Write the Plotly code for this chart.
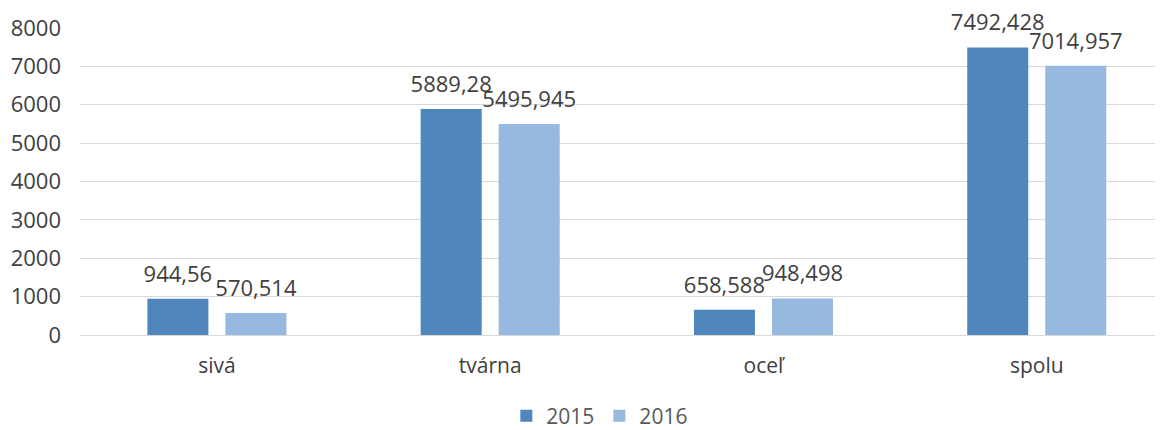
import plotly.graph_objects as go

categories = ["sivá", "tvárna", "oceľ", "spolu"]
values_2015 = [944.56, 5889.28, 658.588, 7492.428]
values_2016 = [570.514, 5495.945, 948.498, 7014.957]
series_names = ["2015", "2016"]
y_ticks = [0, 1000, 2000, 3000, 4000, 5000, 6000, 7000, 8000]

colors = ["#4F87BC", "#97B8DF"]
FONT = "Open Sans, DejaVu Sans, sans-serif"
TXT = "#404040"


def fmt(v):
    return str(v).replace(".", ",")


fig = go.Figure()
series = list(zip(series_names, [values_2015, values_2016], colors))
for name, vals, col in series:
    fig.add_trace(go.Bar(
        name=name, x=categories, y=vals, offsetgroup=name,
        marker=dict(color=col, line=dict(width=0)),
    ))
# value labels: invisible markers carry the text a little above each bar
for name, vals, col in series:
    fig.add_trace(go.Scatter(
        x=categories, y=vals, offsetgroup=name, mode="markers+text",
        marker=dict(size=17, opacity=0, color=col),
        text=[fmt(v) for v in vals], textposition="top center",
        textfont=dict(family=FONT, size=22, color=TXT),
        cliponaxis=False, showlegend=False, hoverinfo="skip",
    ))

# the page body adds an 8px margin, so the figure is sized/offset to compensate
fig.update_layout(
    width=1155, height=422,
    margin=dict(l=72, r=0, t=20, b=95, autoexpand=False),
    plot_bgcolor="white", paper_bgcolor="white",
    barmode="group", bargap=0.429, bargroupgap=0.218,
    scattermode="group", scattergap=0.429,
    font=dict(family=FONT, size=21, color=TXT),
    showlegend=True,
    legend=dict(orientation="h", x=0.480, xanchor="center", y=-0.197, yanchor="top",
                font=dict(family=FONT, size=21, color="#595959"), itemwidth=30,
                traceorder="normal"),
    xaxis=dict(range=[-0.501, 3.462], showgrid=False, showline=False, ticks="",
               automargin=False, ticklabelstandoff=16, tickfont=dict(size=21, color=TXT)),
    yaxis=dict(range=[0, 8000], tickvals=y_ticks, showgrid=True, gridcolor="#D9D9D9",
               gridwidth=1, zeroline=True, zerolinecolor="#D9D9D9", zerolinewidth=1,
               showline=False, ticks="", automargin=False, ticklabelstandoff=18,
               tickfont=dict(size=22, color=TXT)),
)

fig.write_html("out.html")
